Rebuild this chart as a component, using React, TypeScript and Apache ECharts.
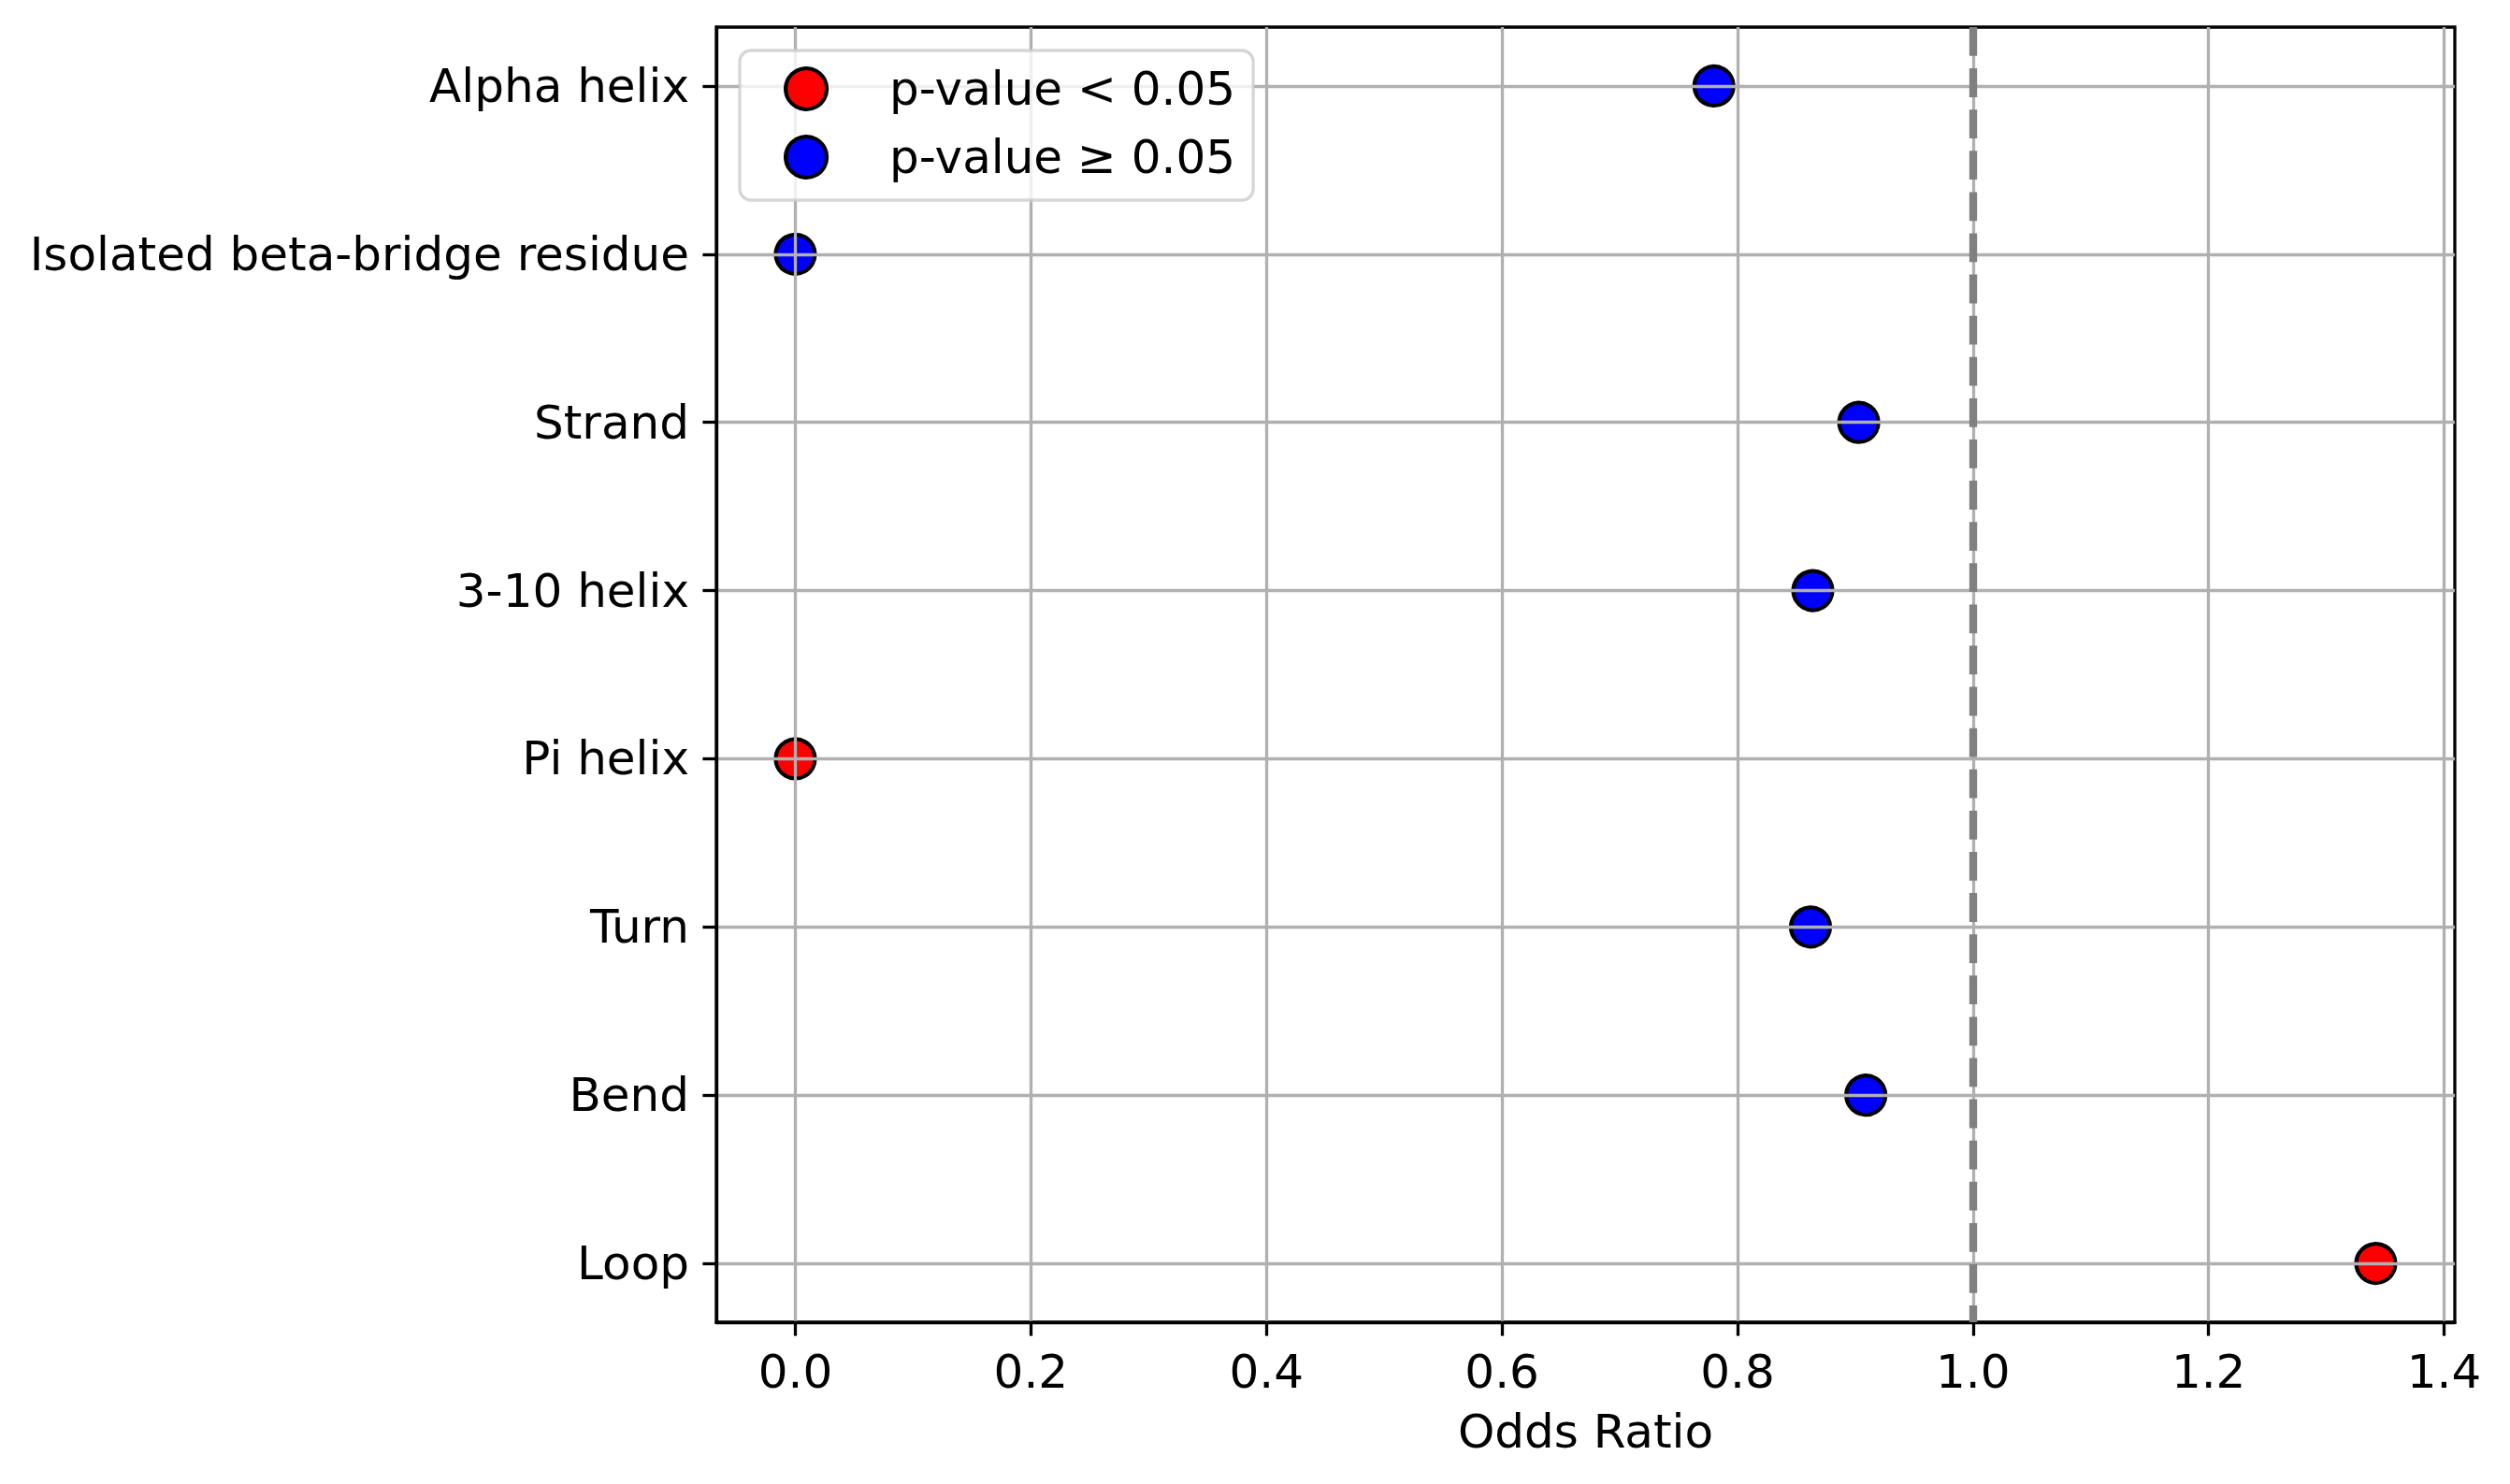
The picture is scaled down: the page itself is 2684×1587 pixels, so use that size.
import React, { useEffect, useRef } from 'react';
import * as echarts from 'echarts';

const categories = [
  'Alpha helix',
  'Isolated beta-bridge residue',
  'Strand',
  '3-10 helix',
  'Pi helix',
  'Turn',
  'Bend',
  'Loop',
];
const oddsRatios = [0.78, 0.0, 0.903, 0.864, 0.0, 0.862, 0.909, 1.342];
const significant = [false, false, false, false, true, false, false, true];
const xTicks = [0, 0.2, 0.4, 0.6, 0.8, 1.0, 1.2, 1.4];
const referenceOddsRatio = 1.0;
const seriesNames = ['p-value < 0.05', 'p-value \u2265 0.05'];
const seriesColors = ['#ff0000', '#0000ff'];

const FONT = 'DejaVu Sans';

export default function App() {
  const ref = useRef<HTMLDivElement>(null);
  useEffect(() => {
    document.body.style.margin = '0';
    const chart = echarts.init(ref.current!, null, { renderer: 'svg' });

    const xMinData = Math.min(...oddsRatios);
    const xMaxData = Math.max(...oddsRatios);
    const xPad = (xMaxData - xMinData) * 0.05;
    const yPad = (categories.length - 1) * 0.05;
    const yTicks = categories.map((_, i) => i);

    const sigData = oddsRatios
      .map((v, i) => (significant[i] ? [v, i] : null))
      .filter((d) => d !== null);
    const nsData = oddsRatios
      .map((v, i) => (!significant[i] ? [v, i] : null))
      .filter((d) => d !== null);

    const axisCommon = {
      z: 2,
      axisLine: { show: true, onZero: false, lineStyle: { color: '#000', width: 3.3 } },
      axisTick: { show: true, length: 14.6, lineStyle: { color: '#000', width: 3.3 } },
      splitLine: { show: true, lineStyle: { color: '#b0b0b0', width: 3.3 } },
    };

    chart.setOption({
      animation: false,
      grid: {
        left: 766,
        top: 29,
        width: 1859,
        height: 1385,
        show: true,
        borderColor: '#000',
        borderWidth: 3.3,
        backgroundColor: 'transparent',
        containLabel: false,
        outerBoundsMode: 'none',
      },
      legend: {
        z: 5,
        orient: 'vertical',
        left: 791,
        top: 54,
        data: seriesNames,
        itemWidth: 44,
        itemHeight: 44,
        itemGap: 23,
        padding: [16, 19, 21, 47],
        backgroundColor: 'rgba(255,255,255,0.8)',
        borderColor: 'rgba(204,204,204,0.8)',
        borderWidth: 3.3,
        borderRadius: 12,
        icon: 'circle',
        itemStyle: { borderColor: '#000', borderWidth: 4.2 },
        textStyle: {
          fontFamily: FONT,
          fontSize: 50,
          lineHeight: 44,
          color: '#000',
          padding: [0, 0, 0, 62],
        },
      },
      xAxis: {
        ...axisCommon,
        type: 'value',
        min: xMinData - xPad,
        max: xMaxData + xPad,
        name: 'Odds Ratio',
        nameLocation: 'middle',
        nameGap: 92,
        nameMoveOverlap: false,
        nameTextStyle: { fontFamily: FONT, fontSize: 50, color: '#000' },
        axisTick: { ...axisCommon.axisTick, customValues: xTicks },
        axisLabel: {
          customValues: xTicks,
          margin: 28,
          fontFamily: FONT,
          fontSize: 50,
          color: '#000',
          formatter: (v: number) => v.toFixed(1),
        },
      },
      yAxis: {
        ...axisCommon,
        type: 'value',
        inverse: true,
        min: -yPad,
        max: categories.length - 1 + yPad,
        axisTick: { ...axisCommon.axisTick, customValues: yTicks },
        axisLabel: {
          customValues: yTicks,
          margin: 29,
          fontFamily: FONT,
          fontSize: 50,
          color: '#000',
          formatter: (v: number) => categories[Math.round(v)] ?? '',
        },
      },
      series: [
        {
          name: seriesNames[0],
          type: 'scatter',
          z: 1,
          symbol: 'circle',
          symbolSize: 42,
          itemStyle: { color: seriesColors[0], borderColor: '#000', borderWidth: 4.2, opacity: 1 },
          data: sigData,
        },
        {
          name: seriesNames[1],
          type: 'scatter',
          z: 1,
          symbol: 'circle',
          symbolSize: 42,
          itemStyle: { color: seriesColors[1], borderColor: '#000', borderWidth: 4.2, opacity: 1 },
          data: nsData,
        },
        {
          name: 'reference',
          type: 'line',
          z: 3,
          data: [],
          markLine: {
            silent: true,
            symbol: 'none',
            label: { show: false },
            lineStyle: { type: [30.8, 13.3], color: '#808080', width: 8.33 },
            data: [{ xAxis: referenceOddsRatio }],
          },
        },
      ],
    });

    return () => chart.dispose();
  }, []);
  return <div ref={ref} style={{ width: 2684, height: 1587 }} />;
}
